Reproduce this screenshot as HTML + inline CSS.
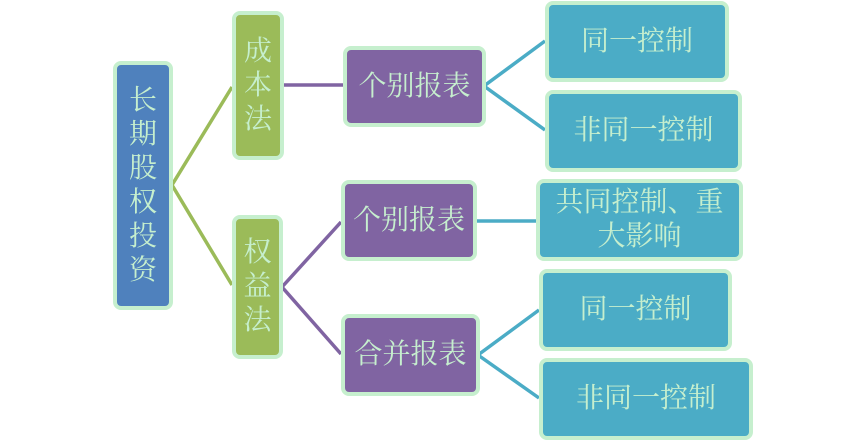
<!DOCTYPE html>
<html>
<head>
<meta charset="utf-8">
<style>
html,body{margin:0;padding:0;background:#ffffff;}
body{width:865px;height:438px;position:relative;overflow:hidden;
font-family:"Liberation Serif","Noto Serif CJK SC","Noto Serif CJK JP",serif;}
.b{position:absolute;box-sizing:border-box;border:4px solid #c6efce;border-radius:8px;
display:flex;align-items:center;justify-content:center;text-align:center;
color:#c6efce;font-size:28px;line-height:34px;}
.blue{background:#4f81bd;}
.green{background:#9bbb59;}
.purple{background:#8064a2;}
.teal{background:#4bacc6;}
svg{position:absolute;left:0;top:0;}
</style>
</head>
<body>
<svg width="865" height="438" viewBox="0 0 865 438">
  <g fill="none" stroke-width="3.5" stroke-linejoin="miter">
    <polyline points="232,87 172,185 232,285" stroke="#9bbb59"/>
    <line x1="284" y1="85" x2="343" y2="85" stroke="#8064a2"/>
    <polyline points="341,222 282,287 341,354" stroke="#8064a2"/>
    <polyline points="545,41 484,86 545,130" stroke="#4bacc6"/>
    <line x1="477" y1="221" x2="536" y2="221" stroke="#4bacc6"/>
    <polyline points="539,310 478,355 539,398" stroke="#4bacc6"/>
  </g>
</svg>

<div class="b blue" style="left:113px;top:61px;width:60px;height:249px;">长<br>期<br>股<br>权<br>投<br>资</div>

<div class="b green" style="left:232px;top:11px;width:52px;height:149px;">成<br>本<br>法</div>
<div class="b green" style="left:232px;top:215px;width:51px;height:144px;">权<br>益<br>法</div>

<div class="b purple" style="left:343px;top:46px;width:143px;height:81px;">个别报表</div>
<div class="b purple" style="left:341px;top:180px;width:136px;height:81px;">个别报表</div>
<div class="b purple" style="left:341px;top:314px;width:139px;height:82px;">合并报表</div>

<div class="b teal" style="left:545px;top:1px;width:184px;height:81px;">同一控制</div>
<div class="b teal" style="left:545px;top:90px;width:197px;height:82px;">非同一控制</div>
<div class="b teal" style="left:536px;top:179px;width:207px;height:82px;">共同控制、重<br>大影响</div>
<div class="b teal" style="left:539px;top:269px;width:193px;height:82px;">同一控制</div>
<div class="b teal" style="left:539px;top:358px;width:214px;height:82px;">非同一控制</div>
</body>
</html>
